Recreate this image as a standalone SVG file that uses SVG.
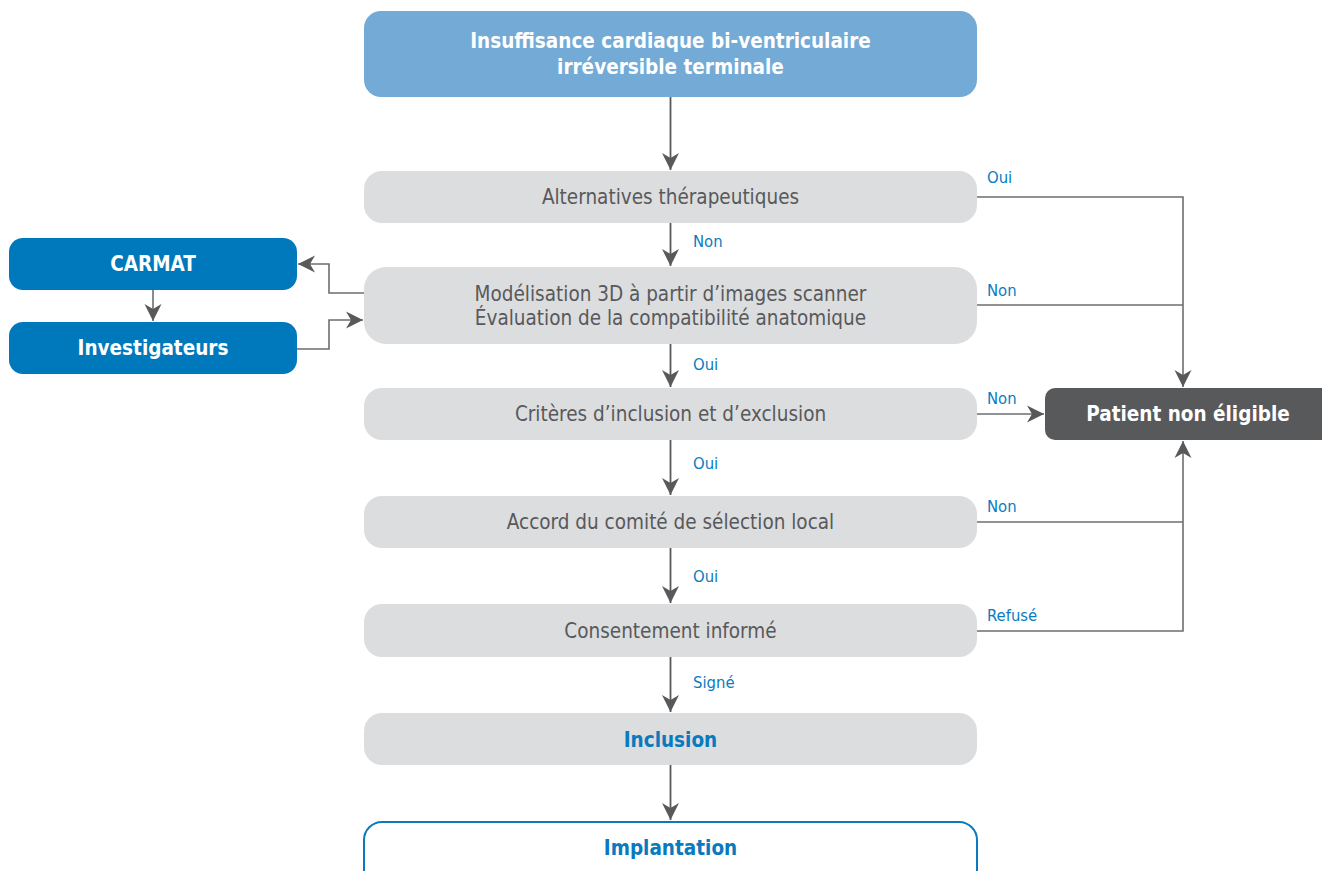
<svg xmlns="http://www.w3.org/2000/svg" width="1322" height="871" viewBox="0 0 1322 871">
  <style>
    .step { fill: #dcdddf; }
    .step-text { font-family: "DejaVu Sans", sans-serif; font-stretch: condensed; font-size: 20.5px; fill: #58595b; text-anchor: middle; }
    .blue-box { fill: #0079bc; }
    .box-title { font-family: "DejaVu Sans", sans-serif; font-stretch: condensed; font-weight: bold; font-size: 20.5px; fill: #ffffff; text-anchor: middle; }
    .blue-title { font-family: "DejaVu Sans", sans-serif; font-stretch: condensed; font-weight: bold; font-size: 20.5px; fill: #0a79bd; text-anchor: middle; }
    .lbl { font-family: "DejaVu Sans", sans-serif; font-stretch: condensed; font-size: 16.5px; fill: #0a7cc0; }
    .wire { fill: none; stroke: #6d6e70; stroke-width: 1.6; }
    .wire-main { fill: none; stroke: #58595b; stroke-width: 1.8; }
  </style>
  <defs>
    <marker id="head" viewBox="-18 -9 19 18" refX="0" refY="0" markerWidth="19" markerHeight="18" markerUnits="userSpaceOnUse" orient="auto">
      <path d="M0,0 L-17,-8.5 L-12,0 L-17,8.5 Z" fill="#58595b"/>
    </marker>
  </defs>

  <rect width="1322" height="871" fill="#ffffff"/>

  <!-- connectors -->
  <g id="connectors">
    <!-- main vertical chain -->
    <path class="wire-main" d="M670.5,97 V170" marker-end="url(#head)"/>
    <path class="wire-main" d="M670.5,223 V266" marker-end="url(#head)"/>
    <path class="wire-main" d="M670.5,344 V387" marker-end="url(#head)"/>
    <path class="wire-main" d="M670.5,440 V495" marker-end="url(#head)"/>
    <path class="wire-main" d="M670.5,548 V603" marker-end="url(#head)"/>
    <path class="wire-main" d="M670.5,657 V712" marker-end="url(#head)"/>
    <path class="wire-main" d="M670.5,765 V820" marker-end="url(#head)"/>

    <!-- right collector to "Patient non éligible" -->
    <path class="wire" d="M977,197 H1183 V387" marker-end="url(#head)"/>
    <path class="wire" d="M977,305 H1183"/>
    <path class="wire" d="M977,414 H1044" marker-end="url(#head)"/>
    <path class="wire" d="M977,522 H1183"/>
    <path class="wire" d="M977,631 H1183 V441" marker-end="url(#head)"/>

    <!-- left loop with CARMAT / Investigateurs -->
    <path class="wire" d="M364,293 H329 V264 H298" marker-end="url(#head)"/>
    <path class="wire" d="M153,290 V321" marker-end="url(#head)"/>
    <path class="wire" d="M297,349 H329 V320 H363" marker-end="url(#head)"/>

    <!-- branch labels -->
    <text class="lbl" x="987" y="183">Oui</text>
    <text class="lbl" x="987" y="296">Non</text>
    <text class="lbl" x="987" y="404">Non</text>
    <text class="lbl" x="987" y="512">Non</text>
    <text class="lbl" x="987" y="621">Refusé</text>
    <text class="lbl" x="693" y="247">Non</text>
    <text class="lbl" x="693" y="370">Oui</text>
    <text class="lbl" x="693" y="469">Oui</text>
    <text class="lbl" x="693" y="582">Oui</text>
    <text class="lbl" x="693" y="688">Signé</text>
  </g>

  <g id="node-insuffisance">
    <rect x="364" y="11" width="613" height="86" rx="17" fill="#73aad6"/>
    <text class="box-title" x="670.5" y="48">Insuffisance cardiaque bi-ventriculaire</text>
    <text class="box-title" x="670.5" y="74">irréversible terminale</text>
  </g>

  <g id="node-alternatives">
    <rect class="step" x="364" y="171" width="613" height="52" rx="18"/>
    <text class="step-text" x="670.5" y="204">Alternatives thérapeutiques</text>
  </g>

  <g id="node-modelisation">
    <rect class="step" x="364" y="267" width="613" height="77" rx="22"/>
    <text class="step-text" x="670.5" y="301">Modélisation 3D à partir d’images scanner</text>
    <text class="step-text" x="670.5" y="325">Évaluation de la compatibilité anatomique</text>
  </g>

  <g id="node-criteres">
    <rect class="step" x="364" y="388" width="613" height="52" rx="18"/>
    <text class="step-text" x="670.5" y="421">Critères d’inclusion et d’exclusion</text>
  </g>

  <g id="node-accord">
    <rect class="step" x="364" y="496" width="613" height="52" rx="18"/>
    <text class="step-text" x="670.5" y="529">Accord du comité de sélection local</text>
  </g>

  <g id="node-consentement">
    <rect class="step" x="364" y="604" width="613" height="53" rx="18"/>
    <text class="step-text" x="670.5" y="638">Consentement informé</text>
  </g>

  <g id="node-inclusion">
    <rect class="step" x="364" y="713" width="613" height="52" rx="18"/>
    <text class="blue-title" x="670.5" y="747">Inclusion</text>
  </g>

  <g id="node-implantation">
    <rect x="364" y="822" width="613" height="70" rx="18" fill="#ffffff" stroke="#0a79bd" stroke-width="2"/>
    <text class="blue-title" x="670.5" y="855">Implantation</text>
  </g>

  <g id="node-carmat">
    <rect class="blue-box" x="9" y="238" width="288" height="52" rx="14"/>
    <text class="box-title" x="153" y="271">CARMAT</text>
  </g>

  <g id="node-investigateurs">
    <rect class="blue-box" x="9" y="322" width="288" height="52" rx="14"/>
    <text class="box-title" x="153" y="355">Investigateurs</text>
  </g>

  <g id="node-non-eligible">
    <rect x="1045" y="388" width="290" height="52" rx="10" fill="#58595b"/>
    <text class="box-title" x="1188" y="421">Patient non éligible</text>
  </g>
</svg>
